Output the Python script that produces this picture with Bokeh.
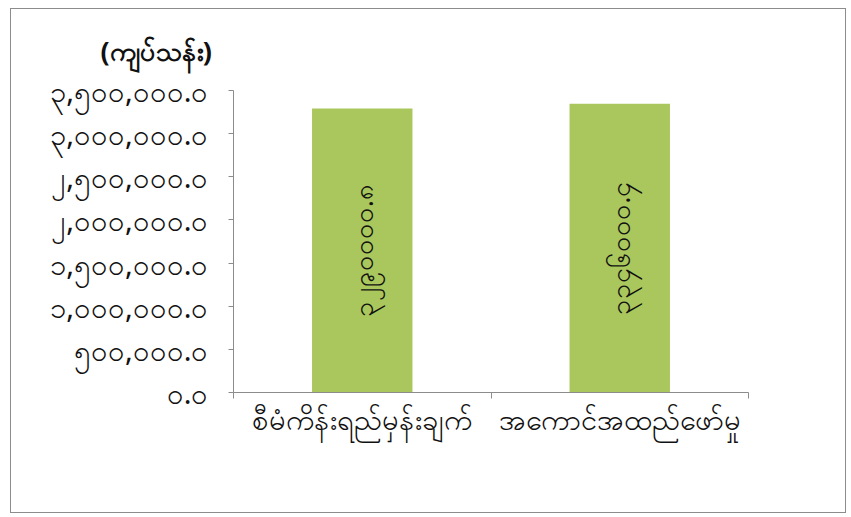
import math
from bokeh.plotting import figure
from bokeh.models import ColumnDataSource, FixedTicker, Range1d
from bokeh.core.properties import value
from bokeh.embed import file_html
from bokeh.resources import INLINE

# ---- data ----
categories = ["စီမံကိန်းရည်မှန်းချက်", "အကောင်အထည်ဖော်မှု"]
values = [3290000.8, 3346000.4]
value_labels = ["၃၂၉၀၀၀၀.၈", "၃၃၄၆၀၀၀.၄"]
y_ticks = [0, 500000, 1000000, 1500000, 2000000, 2500000, 3000000, 3500000]
y_tick_labels = ["၀.၀", "၅၀၀,၀၀၀.၀", "၁,၀၀၀,၀၀၀.၀", "၁,၅၀၀,၀၀၀.၀",
                 "၂,၀၀၀,၀၀၀.၀", "၂,၅၀၀,၀၀၀.၀", "၃,၀၀၀,၀၀၀.၀", "၃,၅၀၀,၀၀၀.၀"]
y_title = "(ကျပ်သန်း)"

FONT = "Noto Sans"
xs = [i + 0.5 for i in range(len(categories))]
src = ColumnDataSource(dict(x=xs, top=values, mid=[v / 2 for v in values], lab=value_labels))

p = figure(width=836, height=505, output_backend="svg", toolbar_location=None,
           x_range=Range1d(0, len(categories)), y_range=Range1d(0, y_ticks[-1]),
           min_border_left=222, min_border_right=99, min_border_top=81, min_border_bottom=122)
p.styles = {"border": "1px solid #8c8c8c", "margin-left": "10px", "margin-top": "8px"}
p.outline_line_color = None
p.grid.grid_line_color = None
p.background_fill_color = "white"

p.title.text = y_title
p.title.align = "left"
p.title.vertical_align = "top"
p.title.offset = -133
p.title.standoff = 40
p.title.text_font = FONT
p.title.text_font_size = "27px"
p.title.text_font_style = "bold"
p.title.text_color = "#111111"

p.vbar(x="x", top="top", width=0.39, source=src, fill_color="#a9c75c", line_color=None)
p.text(x="x", y="mid", text="lab", source=src, angle=math.pi / 2,
       text_align="center", text_baseline="middle", text_font=value(FONT),
       text_font_size="27px", text_color="#111111")

ya = p.yaxis[0]
ya.ticker = FixedTicker(ticks=y_ticks)
ya.major_label_overrides = {t: l for t, l in zip(y_ticks, y_tick_labels)}
ya.major_label_text_font = FONT
ya.major_label_text_font_size = "29px"
ya.major_label_text_color = "#111111"
ya.major_label_standoff = 20
ya.major_tick_out = 5
ya.major_tick_in = 0
ya.minor_tick_line_color = None
ya.axis_line_color = "#8c8c8c"
ya.major_tick_line_color = "#8c8c8c"

xa = p.xaxis[0]
xa.ticker = FixedTicker(ticks=xs, minor_ticks=list(range(len(categories) + 1)))
xa.major_label_overrides = {x: c for x, c in zip(xs, categories)}
xa.major_label_text_font = FONT
xa.major_label_text_font_size = "29px"
xa.major_label_text_color = "#111111"
xa.major_label_standoff = 0
xa.major_tick_line_color = None
xa.minor_tick_out = 6
xa.minor_tick_in = 0
xa.minor_tick_line_color = "#8c8c8c"
xa.axis_line_color = "#8c8c8c"

open("out.html", "w").write(file_html(p, INLINE))
